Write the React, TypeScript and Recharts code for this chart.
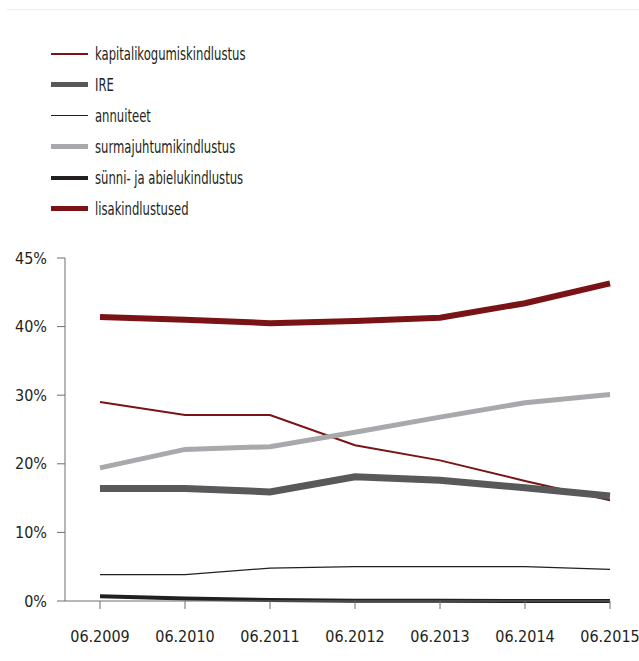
import React from "react";
import { LineChart, Line, XAxis, YAxis, Legend } from "recharts";

const categories = ["06.2009", "06.2010", "06.2011", "06.2012", "06.2013", "06.2014", "06.2015"];
const kapitalikogumiskindlustus = [29.0, 27.1, 27.1, 22.7, 20.5, 17.5, 14.7];
const ire = [16.4, 16.4, 15.9, 18.1, 17.6, 16.5, 15.3];
const annuiteet = [3.85, 3.85, 4.8, 5.0, 5.0, 5.0, 4.6];
const surmajuhtumikindlustus = [19.4, 22.1, 22.5, 24.6, 26.8, 28.9, 30.1];
const synni = [0.7, 0.35, 0.15, 0.05, 0.05, 0.0, 0.0];
const lisakindlustused = [41.4, 41.0, 40.5, 40.8, 41.3, 43.4, 46.3];

const yTicks = [0, 10, 20, 30, 40, 50];
const yTickLabels = ["0%", "10%", "20%", "30%", "40%", "45%"];

const series = [
  { key: "kap", name: "kapitalikogumiskindlustus", values: kapitalikogumiskindlustus, color: "#7a1315", width: 2, legendWidth: 2 },
  { key: "ire", name: "IRE", values: ire, color: "#58595b", width: 7, legendWidth: 5 },
  { key: "ann", name: "annuiteet", values: annuiteet, color: "#231f20", width: 1.2, legendWidth: 1.2 },
  { key: "sur", name: "surmajuhtumikindlustus", values: surmajuhtumikindlustus, color: "#a7a9ac", width: 5, legendWidth: 5 },
  { key: "syn", name: "sünni- ja abielukindlustus", values: synni, color: "#231f20", width: 4, legendWidth: 4 },
  { key: "lis", name: "lisakindlustused", values: lisakindlustused, color: "#7a1315", width: 6, legendWidth: 5 },
];

const data = categories.map((c, i) => {
  const row: any = { cat: c };
  series.forEach((s) => (row[s.key] = s.values[i]));
  return row;
});

const FONT = "'Liberation Sans Narrow', 'DejaVu Sans Condensed', 'Noto Sans', sans-serif";

const LegendContent = () => (
  <div style={{ fontFamily: FONT, fontSize: 17, color: "#231f20" }}>
    {series.map((s) => (
      <div key={s.key} style={{ display: "flex", alignItems: "center", height: 31 }}>
        <div style={{ width: 37, height: s.legendWidth, background: s.color, marginRight: 7, flex: "none" }} />
        <span style={{ display: "inline-block", transform: "scaleX(0.76)", transformOrigin: "left center", whiteSpace: "nowrap" }}>
          {s.name}
        </span>
      </div>
    ))}
  </div>
);

export default function App() {
  return (
    <div style={{ position: "absolute", left: 0, top: 0, width: 639, height: 661, background: "#fff" }}>
      <div style={{ position: "absolute", left: 7, top: 9, width: 632, borderTop: "1px solid #ebebeb" }} />
      <LineChart
        width={639}
        height={661}
        data={data}
        margin={{ top: 258, right: 29, bottom: 20, left: 0 }}
      >
        <Legend
          layout="vertical"
          align="center"
          verticalAlign="middle"
          content={<LegendContent />}
          wrapperStyle={{ left: 51, top: 38, width: 300, height: 190 }}
        />
        <XAxis
          dataKey="cat"
          padding={{ left: 35, right: 0 }}
          height={40}
          tickSize={8}
          tickMargin={22}
          interval={0}
          stroke="#6d6e71"
          tick={{ fill: "#231f20", fontSize: 16, fontFamily: FONT }}
        />
        <YAxis
          domain={[0, 50]}
          ticks={yTicks}
          width={65}
          tickSize={8}
          tickMargin={10}
          stroke="#6d6e71"
          tickFormatter={(v: number) => yTickLabels[yTicks.indexOf(v)]}
          tick={{ fill: "#231f20", fontSize: 16, fontFamily: FONT }}
        />
        {series.map((s) => (
          <Line
            key={s.key}
            dataKey={s.key}
            name={s.name}
            type="linear"
            stroke={s.color}
            strokeWidth={s.width}
            dot={false}
            activeDot={false}
            isAnimationActive={false}
          />
        ))}
      </LineChart>
    </div>
  );
}
